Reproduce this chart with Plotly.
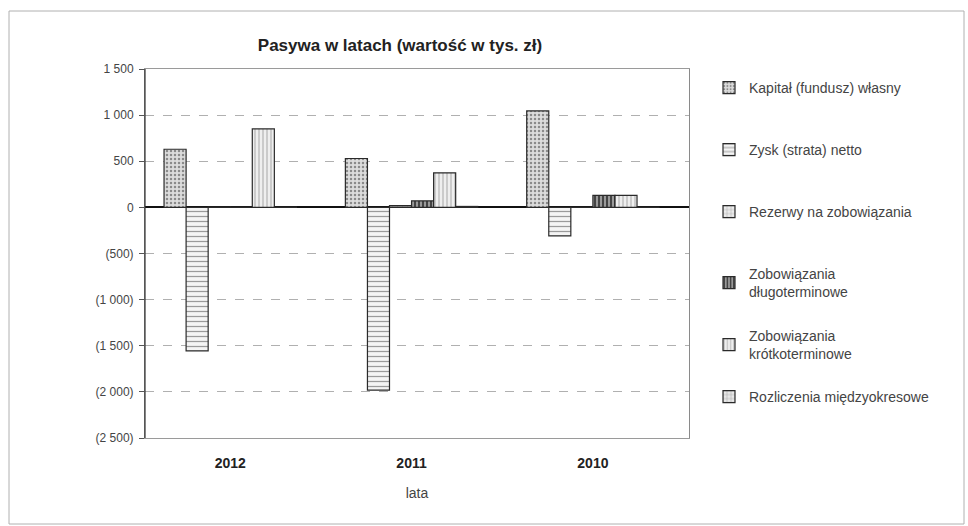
import plotly.graph_objects as go

# Years on the category axis
years = ["2012", "2011", "2010"]

# Balance-sheet liability items (thousand PLN)
kapital = [630, 530, 1045]
zysk = [-1555, -1980, -310]
rezerwy = [4, 18, 2]
zob_dlugo = [3, 70, 130]
zob_krotko = [850, 375, 130]
rozliczenia = [3, 10, 2]

series_names = [
    "Kapitał (fundusz) własny",
    "Zysk (strata) netto",
    "Rezerwy na zobowiązania",
    "Zobowiązania<br>długoterminowe",
    "Zobowiązania<br>krótkoterminowe",
    "Rozliczenia międzyokresowe",
]
series_values = [kapital, zysk, rezerwy, zob_dlugo, zob_krotko, rozliczenia]

# y-axis ticks in accounting style (negatives in parentheses)
tick_vals = [1500, 1000, 500, 0, -500, -1000, -1500, -2000, -2500]
tick_text = ["1 500", "1 000", "500", "0", "(500)", "(1 000)", "(1 500)", "(2 000)", "(2 500)"]

styles = [
    dict(shape=".", fg="#8a8a8a", bg="#dcdcdc", size=4, sol=0.3),
    dict(shape="-", fg="#9a9a9a", bg="#f4f4f4", size=5, sol=0.25),
    dict(shape="+", fg="#a0a0a0", bg="#ececec", size=5, sol=0.2),
    dict(shape="|", fg="#3a3a3a", bg="#9a9a9a", size=4, sol=0.45),
    dict(shape="|", fg="#a8a8a8", bg="#efefef", size=4, sol=0.25),
    dict(shape="+", fg="#9a9a9a", bg="#e8e8e8", size=5, sol=0.2),
]

W, H = 968, 526
L, R, T, B = 145, 279, 69, 88
pw, ph = W - L - R, H - T - B

def px_x(v):
    return (v - L) / pw

def px_y(v):
    return (H - B - v) / ph

# vertical centre (in pixels from the top) of each legend entry
legend_rows = [88, 150, 212, 283, 345, 397]
legend_ids = ["legend", "legend2", "legend3", "legend4", "legend5", "legend6"]

fig = go.Figure()
for name, vals, st, lid in zip(series_names, series_values, styles, legend_ids):
    fig.add_trace(go.Bar(
        x=years, y=vals, name=name, legend=lid,
        marker=dict(
            color=st["bg"],
            line=dict(color="#2a2a2a", width=1.2),
            pattern=dict(shape=st["shape"], fgcolor=st["fg"], bgcolor=st["bg"],
                         size=st["size"], solidity=st["sol"], fillmode="replace"),
        ),
    ))

legend_layout = {}
for lid, row in zip(legend_ids, legend_rows):
    legend_layout[lid] = dict(
        x=px_x(709), y=px_y(row), xanchor="left", yanchor="middle",
        font=dict(size=14, color="#444444"), itemwidth=30,
        bgcolor="rgba(0,0,0,0)",
    )

fig.update_layout(
    width=W, height=H,
    margin=dict(l=L, r=R, t=T, b=B),
    paper_bgcolor="white", plot_bgcolor="white",
    font=dict(family="Liberation Sans, Arial, sans-serif", color="#333333"),
    title=dict(text="<b>Pasywa w latach (wartość w tys. zł)</b>",
               x=400 / W, xanchor="center",
               y=1 - 45 / H, yanchor="middle",
               font=dict(size=17, color="#222222")),
    barmode="group", bargap=0.27, bargroupgap=0,
    showlegend=True,
    xaxis=dict(
        range=[-0.47, 2.53], showgrid=False, showline=True, mirror=True,
        linecolor="#9a9a9a", linewidth=1, ticks="", ticklabelstandoff=12,
        tickfont=dict(size=14, color="#222222", family="Liberation Sans, Arial"),
        tickprefix="<b>", ticksuffix="</b>",
        title=dict(text="lata", font=dict(size=14, color="#444444"), standoff=18),
    ),
    yaxis=dict(
        range=[-2500, 1500], tickvals=tick_vals, ticktext=tick_text,
        showgrid=True, gridcolor="#b0b0b0", griddash="dash", gridwidth=1,
        zeroline=True, zerolinecolor="#111111", zerolinewidth=1.6,
        showline=True, mirror=True, linecolor="#8a8a8a", linewidth=1,
        ticks="outside", ticklen=5, tickcolor="#555555", ticklabelstandoff=3,
        tickfont=dict(size=12, color="#444444"),
    ),
    shapes=[
        # outer chart border
        dict(type="rect", xref="paper", yref="paper",
             x0=px_x(9), x1=px_x(964), y0=px_y(524), y1=px_y(11),
             line=dict(color="#b0b0b0", width=1), fillcolor="rgba(0,0,0,0)",
             layer="below"),
        # darker value axis line
        dict(type="line", xref="paper", yref="paper",
             x0=0, x1=0, y0=0, y1=1, line=dict(color="#333333", width=1.2)),
    ],
    **legend_layout,
)

fig.write_html("out.html")
